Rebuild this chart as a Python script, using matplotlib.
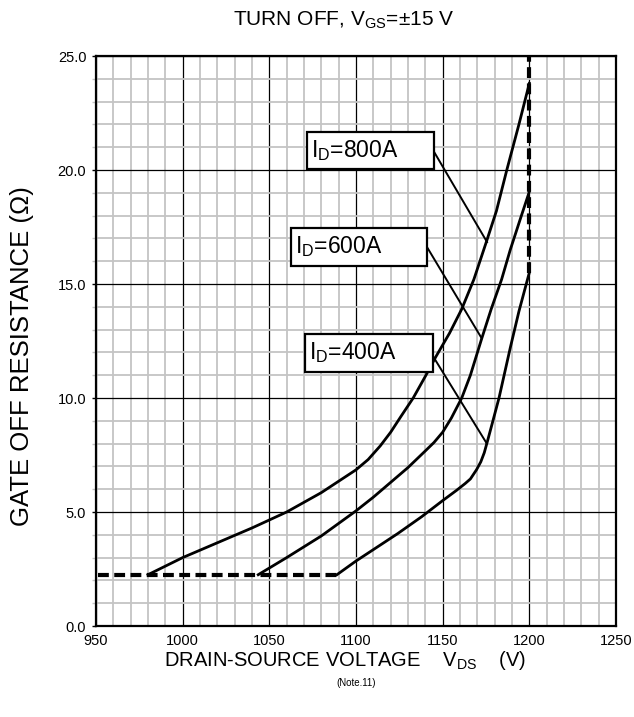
import matplotlib
matplotlib.use("Agg")
import matplotlib.pyplot as plt
from matplotlib.patches import Rectangle
from matplotlib.ticker import MultipleLocator, FormatStrFormatter

plt.rcParams['font.family'] = ['Liberation Sans', 'DejaVu Sans']
plt.rcParams['mathtext.fontset'] = 'custom'
plt.rcParams['mathtext.rm'] = 'Liberation Sans'
plt.rcParams['mathtext.it'] = 'Liberation Sans'

# values
vds_800 = [980, 1000, 1020, 1040, 1060, 1080, 1100, 1107, 1114, 1120, 1126, 1133,
           1140, 1146, 1154, 1161, 1168, 1175, 1181, 1187, 1194, 1200]
rg_800 = [2.25, 3.0, 3.65, 4.3, 5.0, 5.85, 6.85, 7.3, 7.9, 8.5, 9.2, 10.0,
          10.95, 11.8, 12.85, 13.9, 15.2, 16.8, 18.2, 20.0, 22.0, 23.8]

vds_600 = [1043.6, 1060, 1080, 1100, 1110, 1120, 1130, 1140, 1145, 1150, 1155,
           1161, 1166, 1172.5, 1178, 1184, 1189, 1195, 1200]
rg_600 = [2.25, 3.0, 3.95, 5.05, 5.65, 6.3, 6.95, 7.68, 8.05, 8.5, 9.12,
          10.0, 11.0, 12.6, 13.9, 15.2, 16.5, 17.9, 19.05]

vds_400 = [1089, 1100, 1112, 1124, 1138, 1150, 1158, 1163, 1166, 1169.5, 1172,
           1174, 1176, 1179, 1182.5, 1189, 1194, 1200]
rg_400 = [2.25, 2.85, 3.45, 4.05, 4.8, 5.5, 5.95, 6.25, 6.45, 6.85, 7.2,
          7.6, 8.15, 9.0, 10.0, 12.2, 13.8, 15.5]

# dashed limits
rg_min = 2.25
vds_min_line = [951, 1089]
vds_max = 1200
rg_max_line = [15.5, 25.0]

labels = ['I$_\\mathregular{D}$=800A', 'I$_\\mathregular{D}$=600A', 'I$_\\mathregular{D}$=400A']
# box (left, bottom, right, top) and leader (start, end) in data units
boxes = [(1071.5, 20.03, 1145.0, 21.68),
         (1062.3, 15.80, 1140.8, 17.47),
         (1070.6, 11.15, 1144.6, 12.81)]
leaders = [((1145.0, 20.8), (1175.6, 16.84)),
           ((1140.8, 16.64), (1172.5, 12.62)),
           ((1144.6, 11.81), (1175.4, 8.01))]

fig = plt.figure(figsize=(6.34, 7.17), dpi=100)
ax = fig.add_axes([96 / 634, 91 / 717, 520 / 634, 570 / 717])

ax.set_xlim(950, 1250)
ax.set_ylim(0, 25)
ax.xaxis.set_major_locator(MultipleLocator(50))
ax.xaxis.set_minor_locator(MultipleLocator(10))
ax.yaxis.set_major_locator(MultipleLocator(5))
ax.yaxis.set_minor_locator(MultipleLocator(1))
ax.yaxis.set_major_formatter(FormatStrFormatter('%.1f'))

ax.grid(which='minor', color='#c4c4c4', lw=1.3, zorder=0)
ax.grid(which='major', color='black', lw=0.9, zorder=1)
ax.set_axisbelow(True)

ax.tick_params(which='major', direction='out', length=3, width=1, labelsize=10.5, pad=4)
ax.tick_params(which='minor', direction='out', length=3, width=1, color='#c4c4c4')
ax.tick_params(axis='x', which='both', length=0, pad=6)
for s in ax.spines.values():
    s.set_linewidth(1.6)

for v, r in [(vds_800, rg_800), (vds_600, rg_600), (vds_400, rg_400)]:
    ax.plot(v, r, color='black', lw=2.0, zorder=3, solid_joinstyle='round')

ax.plot(vds_min_line, [rg_min, rg_min], color='black', lw=3, ls=(0, (2.6, 1.3)), zorder=4)
ax.plot([vds_max, vds_max], rg_max_line, color='black', lw=3, ls=(0, (2.6, 1.3)), zorder=4)

for lab, (x0, y0, x1, y1), (p0, p1) in zip(labels, boxes, leaders):
    ax.plot([p0[0], p1[0]], [p0[1], p1[1]], color='black', lw=1.4, zorder=5)
    ax.add_patch(Rectangle((x0, y0), x1 - x0, y1 - y0, facecolor='white',
                           edgecolor='black', lw=1.6, zorder=6))
    ax.text(x0 + 2.3, (y0 + y1) / 2, lab, fontsize=16.5, ha='left', va='center', zorder=7)

fig.text(343.5 / 634, 1 - 20 / 717, 'TURN OFF, V$_\\mathregular{GS}$=±15 V',
         ha='center', va='center', fontsize=15)
fig.text(345.5 / 634, 1 - 660 / 717, 'DRAIN-SOURCE VOLTAGE    V$_\\mathregular{DS}$    (V)',
         ha='center', va='center', fontsize=14.5)
fig.text(356 / 634, 1 - 683 / 717, '(Note.11)', ha='center', va='center', fontsize=7)
fig.text(22 / 634, 1 - 356 / 717, 'GATE OFF RESISTANCE (Ω)', rotation=90,
         ha='center', va='center', fontsize=18.5)

fig.savefig('out.png', dpi=100)
